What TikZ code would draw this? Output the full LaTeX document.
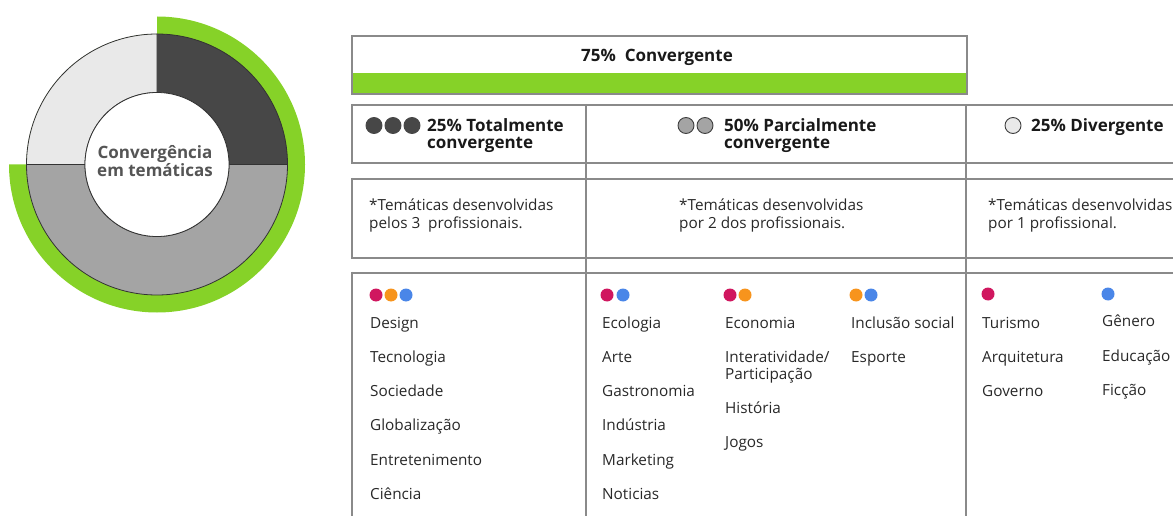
\documentclass[tikz,border=0pt]{standalone}
\usepackage{fontspec}
\setmainfont{Open Sans}
\definecolor{grn}{RGB}{134,210,40}
\definecolor{gridc}{RGB}{138,138,138}
\definecolor{dkq}{RGB}{71,71,71}
\definecolor{ltq}{RGB}{233,233,233}
\definecolor{mdq}{RGB}{164,164,164}
\definecolor{txtc}{RGB}{40,40,40}
\definecolor{ctxt}{RGB}{85,85,85}
\definecolor{crim}{RGB}{208,23,95}
\definecolor{orng}{RGB}{247,148,29}
\definecolor{blu}{RGB}{74,134,232}
\tikzset{
  gridline/.style={draw=gridc, line width=2pt},
  itm/.style={anchor=base west, inner sep=0pt, font=\fontsize{15.3}{17}\selectfont, text=txtc},
  hd/.style={anchor=base west, inner sep=0pt, font=\fontsize{17}{17}\selectfont\bfseries, text=black!90},
  idot/.style={circle, inner sep=0pt, minimum size=13pt},
  hcirc/.style={circle, draw=black!75, line width=0.9pt, inner sep=0pt, minimum size=16pt},
}
\begin{document}
\begin{tikzpicture}[x=1pt,y=-1pt]
\useasboundingbox (0,0) rectangle (1173,516);
\clip (0,0) rectangle (1173,516);
% donut
\begin{scope}[shift={(157,164.5)}, y=1pt]
  \fill[grn] (90:148) arc[start angle=90, end angle=-180, radius=148]
     -- (180:130.5) arc[start angle=180, end angle=-90, radius=130.5] -- cycle;
  \filldraw[fill=dkq, draw=black!80, line width=0.8pt] (0:72) -- (0:130.5) arc[start angle=0, end angle=90, radius=130.5] -- (90:72) arc[start angle=90, end angle=0, radius=72] -- cycle;
  \filldraw[fill=ltq, draw=black!80, line width=0.8pt] (90:72) -- (90:130.5) arc[start angle=90, end angle=180, radius=130.5] -- (180:72) arc[start angle=180, end angle=90, radius=72] -- cycle;
  \filldraw[fill=mdq, draw=black!80, line width=0.8pt] (180:72) -- (180:130.5) arc[start angle=180, end angle=360, radius=130.5] -- (0:72) arc[start angle=360, end angle=180, radius=72] -- cycle;
  \node[circle, fill=white, draw=black!80, line width=0.8pt, minimum size=144pt, inner sep=0pt] (hole) at (0,0) {};
\end{scope}
\node[anchor=base, inner sep=0pt, font=\fontsize{17}{18}\selectfont\bfseries, text=ctxt] (c1) at (155,159) {Convergência};
\node[anchor=base, inner sep=0pt, font=\fontsize{17}{18}\selectfont\bfseries, text=ctxt] (c2) at (155,177) {em temáticas};
% top box
\fill[grn] (352,73) rectangle (966,93);
\draw[gridline] (351.5,36.5) rectangle (966.5,94.5);
\node[hd, anchor=base] (conv) at (657,62) {75\%\ \ Convergente};
% grid lines
\draw[gridline] (351,105) -- (1180,105);
\draw[gridline] (351,163) -- (1180,163);
\draw[gridline] (351,179) -- (1180,179);
\draw[gridline] (351,258) -- (1180,258);
\draw[gridline] (351,272.5) -- (1180,272.5);
\draw[gridline] (351.5,104) -- (351.5,164);
\draw[gridline] (351.5,178) -- (351.5,259);
\draw[gridline] (351.5,271.5) -- (351.5,520);
\draw[gridline] (586,104) -- (586,520);
\draw[gridline] (966,104) -- (966,520);
% header row
\node[hcirc, fill=dkq, draw=dkq] (h1a) at (374,125.5) {};
\node[hcirc, fill=dkq, draw=dkq] (h1b) at (393,125.5) {};
\node[hcirc, fill=dkq, draw=dkq] (h1c) at (412,125.5) {};
\node[hd] (t1a) at (427,132) {25\% Totalmente};
\node[hd] (t1b) at (427,149) {convergente};
\node[hcirc, fill=mdq] (h2a) at (686,125.5) {};
\node[hcirc, fill=mdq] (h2b) at (705,125.5) {};
\node[hd] (t2a) at (724,132) {50\% Parcialmente};
\node[hd] (t2b) at (724,149) {convergente};
\node[hcirc, fill=ltq] (h3a) at (1013,125.5) {};
\node[hd] (t3a) at (1031,132) {25\% Divergente};
% description row
\node[itm] (d1a) at (369,211) {*Temáticas desenvolvidas};
\node[itm] (d1b) at (369,228) {pelos 3\ \ profissionais.};
\node[itm] (d2a) at (679,211) {*Temáticas desenvolvidas};
\node[itm] (d2b) at (679,228) {por 2 dos profissionais.};
\node[itm] (d3a) at (988,211) {*Temáticas desenvolvidas};
\node[itm] (d3b) at (988,228) {por 1 profissional.};
% dots
\node[idot, fill=crim] (k1) at (376,295) {};
\node[idot, fill=orng] (k2) at (391,295) {};
\node[idot, fill=blu] (k3) at (406,295) {};
\node[idot, fill=crim] (k4) at (607,295) {};
\node[idot, fill=blu] (k5) at (623,295) {};
\node[idot, fill=crim] (k6) at (730,295) {};
\node[idot, fill=orng] (k7) at (745,295) {};
\node[idot, fill=orng] (k8) at (856,295) {};
\node[idot, fill=blu] (k9) at (871,295) {};
\node[idot, fill=crim] (k10) at (988,294) {};
\node[idot, fill=blu] (k11) at (1108,294) {};
% items col 1
\node[itm] (a1) at (370,328) {Design};
\node[itm] (a2) at (370,362) {Tecnologia};
\node[itm] (a3) at (370,396) {Sociedade};
\node[itm] (a4) at (370,430) {Globalização};
\node[itm] (a5) at (370,465) {Entretenimento};
\node[itm] (a6) at (370,499) {Ciência};
% col 2
\node[itm] (b1) at (602,328) {Ecologia};
\node[itm] (b2) at (602,362) {Arte};
\node[itm] (b3) at (602,396) {Gastronomia};
\node[itm] (b4) at (602,430) {Indústria};
\node[itm] (b5) at (602,465) {Marketing};
\node[itm] (b6) at (602,499) {Noticias};
\node[itm] (e1) at (725,328) {Economia};
\node[itm] (e2) at (725,362) {Interatividade/};
\node[itm] (e3) at (725,379) {Participação};
\node[itm] (e4) at (725,413) {História};
\node[itm] (e5) at (725,447) {Jogos};
\node[itm] (f1) at (851,328) {Inclusão social};
\node[itm] (f2) at (851,362) {Esporte};
% col 3
\node[itm] (g1) at (982,328) {Turismo};
\node[itm] (g2) at (982,362) {Arquitetura};
\node[itm] (g3) at (982,396) {Governo};
\node[itm] (h1) at (1102,326) {Gênero};
\node[itm] (h2) at (1102,361) {Educação};
\node[itm] (h3) at (1102,395) {Ficção};
\end{tikzpicture}
\end{document}
